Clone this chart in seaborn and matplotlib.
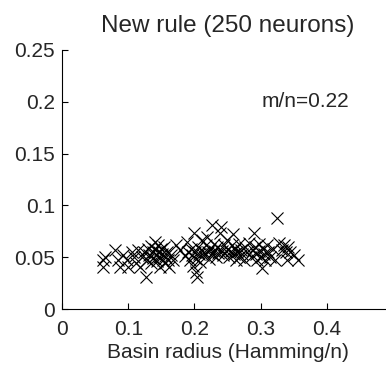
import matplotlib
matplotlib.use('Agg')
import matplotlib.pyplot as plt
import seaborn as sns
import pandas as pd

# basin radius (Hamming/n) and y value for each pattern
radius = [0.062, 0.062, 0.065, 0.080, 0.085, 0.088, 0.092, 0.098, 0.100, 0.105,
          0.108, 0.112, 0.115, 0.118, 0.120, 0.124, 0.127, 0.128, 0.130, 0.132,
          0.134, 0.135, 0.137, 0.138, 0.140, 0.141, 0.142, 0.143, 0.145, 0.146,
          0.147, 0.148, 0.150, 0.151, 0.152, 0.154, 0.155, 0.156, 0.158, 0.160,
          0.162, 0.165, 0.168,
          0.172, 0.178, 0.185, 0.188, 0.190, 0.193, 0.195, 0.197, 0.198, 0.200,
          0.201, 0.202, 0.203, 0.204, 0.205, 0.207, 0.208, 0.210, 0.212, 0.213,
          0.215, 0.218, 0.219, 0.220, 0.222, 0.224, 0.226, 0.227, 0.229, 0.230,
          0.232, 0.234, 0.236, 0.238, 0.240, 0.241, 0.243, 0.245, 0.247, 0.249,
          0.250, 0.252, 0.254, 0.256, 0.258, 0.259, 0.261, 0.263, 0.265, 0.267,
          0.268, 0.270, 0.272, 0.275, 0.277, 0.280,
          0.283, 0.285, 0.288, 0.290, 0.291, 0.293, 0.295, 0.297, 0.298, 0.300,
          0.302, 0.303, 0.305, 0.307, 0.309, 0.311, 0.314, 0.318, 0.322, 0.324,
          0.328, 0.332, 0.335, 0.338, 0.340, 0.342, 0.345, 0.350, 0.356]
value = [0.047, 0.041, 0.050, 0.057, 0.047, 0.041, 0.052, 0.047, 0.041, 0.055,
         0.050, 0.044, 0.057, 0.041, 0.050, 0.055, 0.031, 0.047, 0.058, 0.052,
         0.044, 0.061, 0.055, 0.049, 0.065, 0.058, 0.052, 0.046, 0.062, 0.055,
         0.050, 0.041, 0.058, 0.053, 0.047, 0.060, 0.051, 0.044, 0.055, 0.047,
         0.041, 0.052, 0.047,
         0.062, 0.057, 0.051, 0.065, 0.055, 0.047, 0.058, 0.052, 0.042, 0.073,
         0.055, 0.048, 0.036, 0.031, 0.060, 0.053, 0.045, 0.057, 0.067, 0.052,
         0.055, 0.062, 0.070, 0.055, 0.048, 0.058, 0.081, 0.053, 0.063, 0.056,
         0.050, 0.060, 0.054, 0.073, 0.079, 0.056, 0.052, 0.062, 0.056, 0.067,
         0.058, 0.050, 0.055, 0.062, 0.072, 0.053, 0.058, 0.047, 0.055, 0.063,
         0.050, 0.057, 0.053, 0.047, 0.060, 0.055,
         0.064, 0.050, 0.057, 0.073, 0.060, 0.053, 0.047, 0.063, 0.056, 0.050,
         0.040, 0.058, 0.053, 0.047, 0.062, 0.055, 0.050, 0.058, 0.047, 0.088,
         0.064, 0.057, 0.062, 0.055, 0.047, 0.060, 0.055, 0.052, 0.047]

x_ticks = [0, 0.1, 0.2, 0.3, 0.4]
x_labels = ['0', '0.1', '0.2', '0.3', '0.4']
y_ticks = [0, 0.05, 0.1, 0.15, 0.2, 0.25]
y_labels = ['0', '0.05', '0.1', '0.15', '0.2', '0.25']

sns.set_style('ticks')
plt.rcParams['font.family'] = ['Liberation Sans', 'DejaVu Sans']

df = pd.DataFrame({'radius': radius, 'value': value})

fig = plt.figure(figsize=(3.86, 3.72), dpi=100)
ax = fig.add_axes([0.161, 0.169, 0.857, 0.697])

sns.scatterplot(data=df, x='radius', y='value', marker='x', color='black',
                s=75, linewidth=0.8, ax=ax)

ax.set_xlim(0, 0.5)
ax.set_ylim(0, 0.25)
ax.set_xticks(x_ticks)
ax.set_xticklabels(x_labels)
ax.set_yticks(y_ticks)
ax.set_yticklabels(y_labels)
ax.tick_params(direction='in', labelsize=15, length=4, width=0.8, color='black')
ax.tick_params(axis='x', pad=8)
ax.tick_params(axis='y', pad=5)
ax.set_xlabel('Basin radius (Hamming/n)', fontsize=15, labelpad=3)
ax.set_ylabel('')
ax.set_title('New rule (250 neurons)', fontsize=17.5, pad=13)
ax.text(0.302, 0.2, 'm/n=0.22', fontsize=15, va='center', ha='left')
sns.despine(ax=ax)
for s in ['left', 'bottom']:
    ax.spines[s].set_linewidth(0.8)
    ax.spines[s].set_color('black')

fig.savefig('out.png', dpi=100)
